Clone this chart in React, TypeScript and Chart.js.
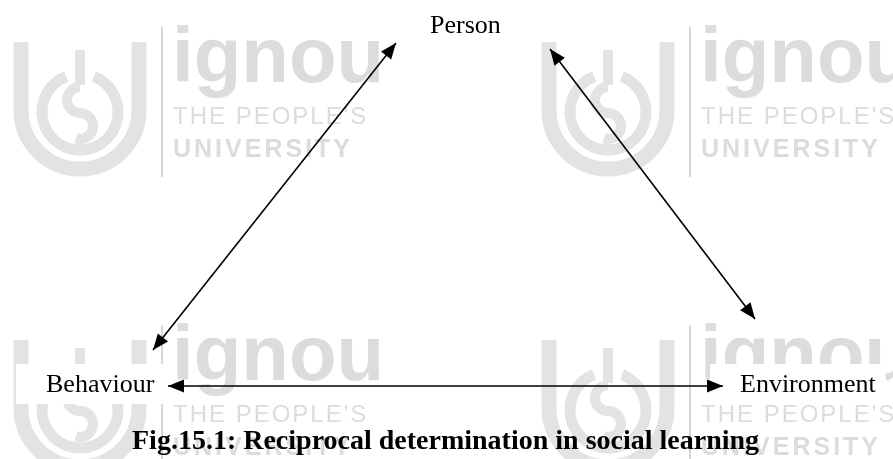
import React, { useEffect, useRef } from "react";
import { Chart, registerables } from "chart.js";

Chart.register(...registerables);

// Diagram nodes (label text, left x of text, baseline y) in canvas units
const nodeLabels = ["Person", "Behaviour", "Environment"];
const nodeX = [430, 46, 740];
const nodeY = [33, 392, 392];

// Double-headed arrows between nodes
const arrowFromX = [396, 550, 168];
const arrowFromY = [43, 49, 386];
const arrowToX = [153, 755, 723];
const arrowToY = [350, 319, 386];

const caption = "Fig.15.1: Reciprocal determination in social learning";
const captionX = 132;
const captionY = 449;

// Watermark blocks (left x, top y)
const markX = [0, 528, 0, 528];
const markY = [0, 0, 298, 298];

const W = 893;
const H = 459;

function drawMark(ctx: CanvasRenderingContext2D, ox: number, oy: number) {
  ctx.save();
  ctx.translate(ox, oy);
  const g = "#e3e3e3";
  ctx.strokeStyle = g;
  ctx.fillStyle = g;
  // outer U ring
  ctx.lineWidth = 15;
  ctx.beginPath();
  ctx.moveTo(21, 42);
  ctx.lineTo(21, 110);
  ctx.arc(80, 110, 59, Math.PI, 0, true);
  ctx.lineTo(139, 42);
  ctx.stroke();
  // inner ring
  ctx.lineWidth = 11;
  ctx.beginPath();
  ctx.arc(80, 112, 38, -Math.PI * 0.38, Math.PI * 1.38, false);
  ctx.stroke();
  // S symbol
  ctx.lineWidth = 10;
  ctx.beginPath();
  ctx.moveTo(80, 50);
  ctx.lineTo(80, 85);
  ctx.stroke();
  ctx.beginPath();
  ctx.arc(80, 100, 13, -Math.PI / 2, Math.PI / 2, true);
  ctx.arc(80, 126, 13, -Math.PI / 2, Math.PI * 0.6, false);
  ctx.stroke();
  // divider line
  ctx.fillStyle = "#d6d6d6";
  ctx.fillRect(161, 27, 2, 150);
  // texts
  ctx.fillStyle = "#dcdcdc";
  ctx.textBaseline = "alphabetic";
  ctx.textAlign = "left";
  ctx.font = "bold 78px 'Liberation Sans'";
  ctx.fillText("ignou", 172, 82);
  ctx.font = "24px 'Liberation Sans'";
  (ctx as any).letterSpacing = "2px";
  ctx.fillText("THE PEOPLE'S", 173, 124);
  ctx.font = "bold 25px 'Liberation Sans'";
  (ctx as any).letterSpacing = "3px";
  ctx.fillText("UNIVERSITY", 173, 157);
  (ctx as any).letterSpacing = "0px";
  ctx.restore();
}

export default function App() {
  const ref = useRef<HTMLCanvasElement | null>(null);
  useEffect(() => {
    document.body.style.margin = "0";
    const canvas = ref.current!;
    const datasets = arrowFromX.map((_, i) => ({
      label: "arrow" + i,
      data: [
        { x: arrowFromX[i], y: arrowFromY[i] },
        { x: arrowToX[i], y: arrowToY[i] },
      ],
      showLine: true,
      borderColor: "#000",
      borderWidth: 1.6,
      pointRadius: 0,
      clip: false as any,
    }));

    const diagramPlugin = {
      id: "diagram",
      beforeDatasetsDraw(chart: any) {
        const ctx = chart.ctx as CanvasRenderingContext2D;
        ctx.save();
        ctx.fillStyle = "#fff";
        ctx.fillRect(0, 0, chart.width, chart.height);
        markX.forEach((mx, i) => drawMark(ctx, mx, markY[i]));
        // white boxes behind labels
        ctx.font = "26px 'Liberation Serif'";
        nodeLabels.forEach((t, i) => {
          const xs = chart.scales.x.getPixelForValue(nodeX[i]);
          const ys = chart.scales.y.getPixelForValue(nodeY[i]);
          const w = ctx.measureText(t).width;
          ctx.fillStyle = "#fff";
          ctx.fillRect(xs - 30, ys - 28, w + 40, 40);
        });
        ctx.restore();
      },
      afterDatasetsDraw(chart: any) {
        const ctx = chart.ctx as CanvasRenderingContext2D;
        ctx.save();
        ctx.fillStyle = "#000";
        chart.data.datasets.forEach((_: any, di: number) => {
          const pts = chart.getDatasetMeta(di).data;
          const a = pts[0];
          const b = pts[1];
          const heads = [
            [a.x, a.y, b.x, b.y],
            [b.x, b.y, a.x, a.y],
          ];
          heads.forEach(([tx, ty, fx, fy]) => {
            const ang = Math.atan2(ty - fy, tx - fx);
            const len = 16;
            const hw = 6.5;
            const bx = tx - len * Math.cos(ang);
            const by = ty - len * Math.sin(ang);
            ctx.beginPath();
            ctx.moveTo(tx, ty);
            ctx.lineTo(bx + hw * Math.sin(ang), by - hw * Math.cos(ang));
            ctx.lineTo(bx - hw * Math.sin(ang), by + hw * Math.cos(ang));
            ctx.closePath();
            ctx.fill();
          });
        });
        // labels
        ctx.textAlign = "left";
        ctx.textBaseline = "alphabetic";
        ctx.font = "26px 'Liberation Serif'";
        nodeLabels.forEach((t, i) => {
          ctx.fillText(
            t,
            chart.scales.x.getPixelForValue(nodeX[i]),
            chart.scales.y.getPixelForValue(nodeY[i])
          );
        });
        ctx.font = "bold 28px 'Liberation Serif'";
        ctx.fillText(
          caption,
          chart.scales.x.getPixelForValue(captionX),
          chart.scales.y.getPixelForValue(captionY)
        );
        ctx.restore();
      },
    };

    const chart = new Chart(canvas, {
      type: "scatter",
      data: { datasets },
      options: {
        animation: false,
        responsive: false,
        maintainAspectRatio: false,
        layout: { padding: 0 },
        plugins: { legend: { display: false }, tooltip: { enabled: false } },
        events: [],
        scales: {
          x: { type: "linear", min: 0, max: W, display: false },
          y: { type: "linear", min: 0, max: H, reverse: true, display: false },
        },
      },
      plugins: [diagramPlugin],
    });
    return () => chart.destroy();
  }, []);

  return (
    <div style={{ position: "fixed", left: 0, top: 0, width: W, height: H, background: "#fff" }}>
      <canvas ref={ref} width={W} height={H} style={{ display: "block" }} />
    </div>
  );
}
